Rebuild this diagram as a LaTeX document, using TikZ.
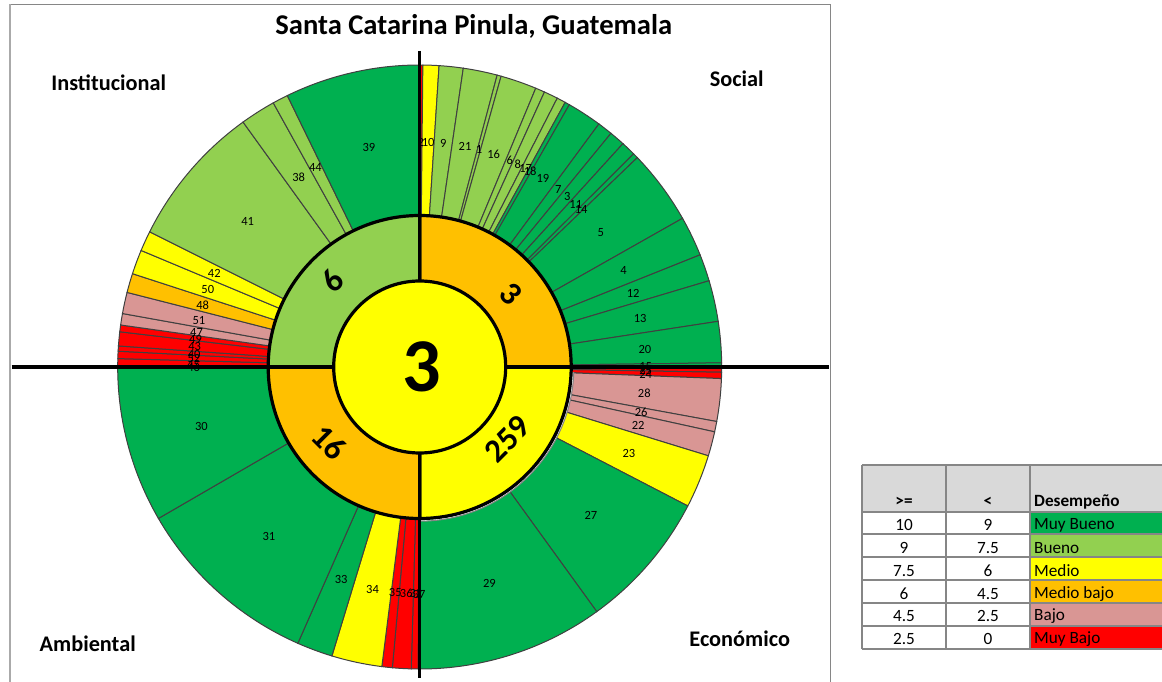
\documentclass[tikz,border=0pt]{standalone}
\usepackage{fontspec}
\setmainfont{Carlito}
\usepackage{tikz}
\definecolor{muybueno}{HTML}{00B050}
\definecolor{bueno}{HTML}{92D050}
\definecolor{medio}{HTML}{FFFF00}
\definecolor{mediobajo}{HTML}{FFC000}
\definecolor{bajo}{HTML}{D99694}
\definecolor{muybajo}{HTML}{FF0000}
\definecolor{slicegray}{HTML}{404040}
\definecolor{gridgray}{HTML}{868686}
\definecolor{headgray}{HTML}{D9D9D9}
\tikzset{
	slice/.style={draw=slicegray, line width=1pt},
	slicenum/.style={font=\fontsize{12.5}{12.5}\selectfont, inner sep=0pt, yshift=-1pt},
	ringline/.style={draw=black, line width=3.2pt},
	ringnum/.style={font=\bfseries\fontsize{33}{33}\selectfont, inner sep=0pt},
	zone/.style={font=\bfseries\fontsize{22.3}{22.3}\selectfont, inner sep=0pt},
	grid/.style={draw=gridgray, line width=1.6pt},
	cell/.style={font=\fontsize{17.2}{17.2}\selectfont, inner sep=0pt},
	headcell/.style={font=\bfseries\fontsize{17.2}{17.2}\selectfont, inner sep=0pt},
}
% from / to (degrees clockwise from the top) / colour / number
\newcommand{\slicelist}{
	0/0.6/muybajo/2, 0.6/3.68/medio/10, 3.68/8.3/bueno/9, 8.3/14.86/bueno/21, 14.86/15.64/bueno/1,
	15.64/22.6/bueno/16, 22.6/24.4/bueno/6, 24.4/27.1/bueno/8, 27.1/28.8/bueno/17,
	28.8/29.7/muybueno/18, 29.7/36.4/muybueno/19, 36.4/39.3/muybueno/7, 39.3/42.3/muybueno/3,
	42.3/45.1/muybueno/11, 45.1/46.1/muybueno/14, 46.1/60.5/muybueno/5, 60.5/68.2/muybueno/4,
	68.2/73.4/muybueno/12, 73.4/81.3/muybueno/13, 81.3/89.2/muybueno/20, 89.2/90.3/muybueno/15,
	90.3/91/muybajo/25, 91/92.2/muybajo/24, 92.2/100.4/bajo/28, 100.4/102.4/bajo/26,
	102.4/107.1/bajo/22, 107.1/117.4/medio/23, 117.4/144.1/muybueno/27, 144.1/180/muybueno/29,
	180/180.3/muybajo/37, 180.3/181.6/muybajo/32, 181.6/185.2/muybajo/36, 185.2/187.2/muybajo/35,
	187.2/196.9/medio/34, 196.9/203.8/muybueno/33, 203.8/239.9/muybueno/31, 239.9/270/muybueno/30,
	270/270.1/muybajo/46, 270.1/271.6/muybajo/45, 271.6/273/muybajo/52, 273/274/muybajo/40,
	274/276.7/muybajo/43, 276.7/278/muybajo/49, 278/280.2/bajo/47, 280.2/284.3/bajo/51,
	284.3/288/mediobajo/48, 288/292.7/medio/50, 292.7/296.6/medio/42, 296.6/324.2/bueno/41,
	324.2/331/bueno/38, 331/334/bueno/44, 334/360/muybueno/39}
\begin{document}
\begin{tikzpicture}[x=1pt,y=1pt]
	\useasboundingbox (-419.7,-315) rectangle (742.3,367);
	\draw[draw=gridgray, line width=1.2pt] (-409.5,362.6) -- (411,362.6) -- (411,-315);
	\draw[draw=gridgray!70, line width=2pt] (-409.7,362.6) -- (-409.7,-315);

	\foreach \from/\to/\col/\num in \slicelist {
		\draw[slice, fill=\col] (0,0) -- (90-\from:302) arc[start angle=90-\from, end angle=90-\to, radius=302] -- cycle;
	}
	\foreach \from/\to/\col/\num in \slicelist {
		\node[slicenum] (n\num) at ({90-(\from+\to)/2}:226) {\num};
	}

	% ring
	\draw[white, line width=1pt] (-2:153.4) arc[start angle=-2, end angle=-90, radius=153.4];
	\draw[draw=gridgray, line width=1pt] (-2:154.2) arc[start angle=-2, end angle=-90, radius=154.2];
	\draw[ringline, fill=mediobajo] (0,0) -- (90:151.5) arc[start angle=90, end angle=0, radius=151.5] -- cycle;
	\draw[ringline, fill=medio] (0,0) -- (0:151.5) arc[start angle=0, end angle=-90, radius=151.5] -- cycle;
	\draw[ringline, fill=mediobajo] (0,0) -- (-90:151.5) arc[start angle=-90, end angle=-180, radius=151.5] -- cycle;
	\draw[ringline, fill=bueno] (0,0) -- (180:151.5) arc[start angle=180, end angle=90, radius=151.5] -- cycle;

	% axes
	\draw[black, line width=3.4pt] (-408,0) -- (409,0);
	\draw[black, line width=3.4pt] (0,316) -- (0,-311);
	\draw[ringline, fill=medio] (0,0) circle (86);

	\node[ringnum, rotate=-45] (social) at (91,73) {3};
	\node[ringnum, rotate=45] (economico) at (87.7,-72) {259};
	\node[ringnum, rotate=-45] (ambiental) at (-90.7,-75.7) {16};
	\node[ringnum, rotate=45] (institucional) at (-87,86) {6};
	\node[font=\bfseries\fontsize{76}{76}\selectfont, inner sep=0pt] (total) at (2,0) {3};

	\node[font=\bfseries\fontsize{28.6}{28.6}\selectfont, inner sep=0pt] (titulo) at (54,341) {Santa Catarina Pinula, Guatemala};
	\node[zone] (zsocial) at (317,288) {Social};
	\node[zone] (zinst) at (-311,284) {Institucional};
	\node[zone] (zamb) at (-332,-277) {Ambiental};
	\node[zone] (zecon) at (320,-272) {Económico};

	% table
	\begin{scope}[shift={(-0.7,1)}]
	\fill[headgray] (443,-99) rectangle (743,-146);
	\foreach \y/\col in {-146/muybueno, -168/bueno, -191/medio, -214/mediobajo, -237/bajo, -260/muybajo} {
		\fill[\col] (611,\y) rectangle (743,\y-23);
	}
	\foreach \y in {-99,-146,-168,-191,-214,-237,-260,-283} {
		\draw[grid] (443,\y) -- (743,\y);
	}
	\foreach \x in {443,527,611} {
		\draw[grid] (\x,-99) -- (\x,-283);
	}
	\node[headcell] (hge) at (485,-136) {>=};
	\node[headcell] (hlt) at (569,-136) {<};
	\node[headcell, anchor=west] (hdes) at (615,-136) {Desempeño};
	\foreach \i/\a/\b/\t in {0/10/9/Muy Bueno, 1/9/7.5/Bueno, 2/7.5/6/Medio, 3/6/4.5/Medio bajo, 4/4.5/2.5/Bajo, 5/2.5/0/Muy Bajo} {
		\node[cell] (a\i) at (485,-159-22.85*\i) {\a};
		\node[cell] (b\i) at (569,-159-22.85*\i) {\b};
		\node[cell, anchor=west] (t\i) at (615,-159-22.85*\i) {\t};
	}
	\end{scope}
\end{tikzpicture}
\end{document}
